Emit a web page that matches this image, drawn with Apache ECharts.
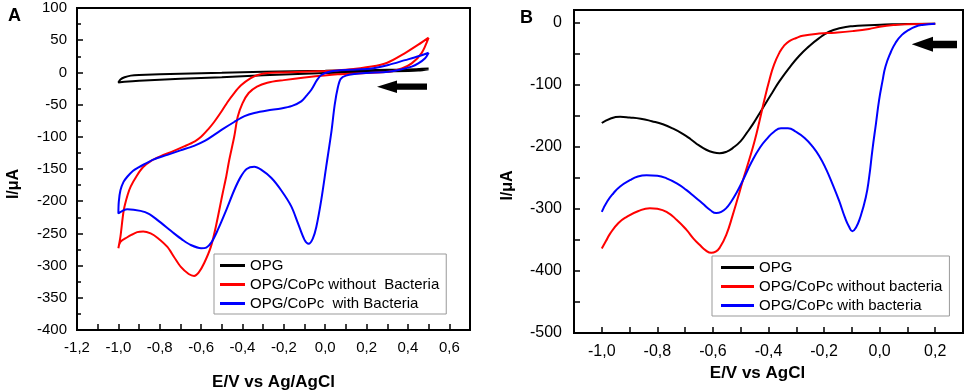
<!DOCTYPE html>
<html>
<head>
<meta charset="utf-8">
<script src="https://cdn.jsdelivr.net/npm/echarts@6/dist/echarts.min.js"></script>
<style>
  html, body { margin: 0; padding: 0; background: #fff; }
  #main { width: 969px; height: 392px; }
</style>
</head>
<body>
<div id="main"></div>
<script>
var myChart = echarts.init(document.getElementById('main'));

// A: cyclic voltammograms [E (V), I (uA)], scan starts at +0.5 V going negative
var cvOpg = [[0.5,5],[0.45,3],[0.3,1.5],[0.1,0],[-0.1,-2],[-0.3,-4.5],[-0.5,-7.5],[-0.7,-10],[-0.9,-13],[-0.97,-14.5],[-1.0,-15.5],
    [-0.99,-11],[-0.97,-7.5],[-0.94,-5],[-0.9,-4],[-0.7,-2],[-0.5,-0.5],[-0.3,1],[0,2.5],[0.2,3.5],[0.4,4.5],[0.5,6]];
var cvNoBact = [[0.5,54],[0.466,30],[0.418,14],[0.37,6],[0.305,1],[0.2,-1],[0.06,-3],[-0.1,-8],[-0.2,-12],[-0.28,-16],[-0.33,-22],
    [-0.37,-32],[-0.4,-48],[-0.423,-69],[-0.44,-100],[-0.464,-136],[-0.48,-164],[-0.496,-188],[-0.529,-240],[-0.553,-271],
    [-0.585,-296],[-0.612,-311],[-0.634,-316],[-0.66,-313],[-0.698,-302],[-0.73,-287],[-0.763,-271],[-0.81,-257],[-0.844,-250],
    [-0.88,-247],[-0.909,-248],[-0.935,-252],[-0.957,-256],[-0.99,-263],[-1.0,-273],
    [-0.99,-255],[-0.974,-214],[-0.955,-190],[-0.94,-177],[-0.91,-160],[-0.88,-147],[-0.84,-137],[-0.795,-130],[-0.74,-123],
    [-0.682,-115],[-0.63,-107],[-0.6,-100],[-0.565,-88],[-0.537,-77],[-0.5,-60],[-0.472,-46],[-0.44,-32],[-0.407,-20],
    [-0.36,-9],[-0.326,-4],[-0.28,-1],[-0.2,0],[0,2],[0.1,4],[0.224,9],[0.3,15],[0.386,30],[0.45,43],[0.5,54]];
var cvBact = [[0.5,30.6],[0.483,22],[0.45,14],[0.418,9],[0.36,4],[0.305,1],[0.2,-1],[0.143,-2.5],[0.1,-5],[0.075,-10],[0.062,-22],
    [0.046,-50],[0.03,-92],[0.005,-146],[-0.019,-198],[-0.043,-240],[-0.06,-258],[-0.08,-266],[-0.1,-260],[-0.132,-234],
    [-0.164,-208],[-0.213,-183],[-0.26,-164],[-0.31,-151],[-0.343,-146.5],[-0.38,-150],[-0.41,-163],[-0.44,-183],[-0.48,-215],
    [-0.52,-245],[-0.55,-264],[-0.575,-272],[-0.6,-273],[-0.65,-268],[-0.69,-260],[-0.731,-250],[-0.812,-229],[-0.85,-220],
    [-0.893,-215],[-0.957,-212.6],[-1.0,-219],
    [-0.998,-201],[-0.99,-183],[-0.975,-170],[-0.957,-162],[-0.93,-153],[-0.9,-147],[-0.877,-143],[-0.828,-135],[-0.763,-128],
    [-0.7,-121],[-0.634,-114],[-0.58,-106],[-0.537,-97],[-0.49,-87],[-0.44,-77],[-0.39,-68],[-0.343,-63],[-0.28,-59],
    [-0.213,-56],[-0.16,-52],[-0.116,-45],[-0.09,-36],[-0.067,-27],[-0.04,-12],[-0.019,-4],[0.02,1],[0.062,3],[0.15,4.5],
    [0.224,6],[0.305,11.5],[0.386,19],[0.45,25],[0.5,30.6]];

// B: linear sweeps [E (V), I (uA)]
var lsvOpg = [[-1.0,-162],[-0.97,-155],[-0.934,-152],[-0.9,-153],[-0.86,-155],[-0.82,-159],[-0.78,-164],[-0.743,-171],[-0.71,-179],
    [-0.68,-188],[-0.65,-198],[-0.624,-205],[-0.6,-209],[-0.576,-210.6],[-0.55,-208],[-0.528,-202],[-0.5,-191],[-0.48,-179],
    [-0.455,-163],[-0.433,-147],[-0.41,-130],[-0.385,-112],[-0.361,-95],[-0.325,-73],[-0.29,-54],[-0.253,-38],[-0.22,-26],
    [-0.182,-15],[-0.14,-9],[-0.098,-6],[-0.04,-4.5],[0.02,-3.5],[0.1,-2.5],[0.2,-2]];
var lsvNoBact = [[-1.0,-364],[-0.985,-352],[-0.97,-340],[-0.94,-323],[-0.91,-313],[-0.87,-304],[-0.827,-299],[-0.8,-300],
    [-0.767,-305],[-0.73,-318],[-0.695,-334],[-0.67,-348],[-0.648,-358],[-0.626,-367],[-0.606,-371],[-0.59,-369],[-0.576,-363],
    [-0.552,-342],[-0.528,-309],[-0.51,-282],[-0.492,-254],[-0.47,-222],[-0.45,-191],[-0.433,-160],[-0.415,-125],[-0.397,-93],
    [-0.38,-68],[-0.361,-49],[-0.345,-38],[-0.325,-30],[-0.3,-25],[-0.277,-21.5],[-0.218,-18],[-0.16,-16.5],[-0.098,-14],
    [-0.038,-10.5],[0.0,-7],[0.057,-4],[0.1,-3],[0.2,-2]];
var lsvBact = [[-1.0,-305],[-0.98,-288],[-0.958,-275],[-0.934,-264],[-0.899,-254],[-0.87,-248],[-0.839,-246],[-0.8,-247],
    [-0.767,-251],[-0.73,-259],[-0.695,-270],[-0.665,-281],[-0.636,-292],[-0.61,-302],[-0.588,-307],[-0.57,-305],[-0.552,-299],
    [-0.535,-289],[-0.516,-275],[-0.492,-254],[-0.46,-224],[-0.43,-201],[-0.405,-187],[-0.38,-176],[-0.355,-170.5],[-0.33,-170.5],
    [-0.301,-176],[-0.27,-186],[-0.241,-200],[-0.215,-217],[-0.194,-235],[-0.17,-260],[-0.146,-287],[-0.125,-314],
    [-0.11,-329],[-0.098,-336],[-0.085,-330],[-0.07,-314],[-0.05,-282],[-0.038,-250],[-0.026,-205],[-0.013,-162],[-0.002,-125],
    [0.01,-95],[0.021,-71],[0.04,-48],[0.057,-33],[0.08,-20],[0.105,-12],[0.13,-6.5],[0.153,-4],[0.2,-2]];

var namesA = ['OPG', 'OPG/CoPc without  Bacteria', 'OPG/CoPc  with Bacteria'];
var namesB = ['OPG', 'OPG/CoPc without bacteria', 'OPG/CoPc with bacteria'];
var colors = ['#000000', '#ff0000', '#0000ff'];

var FONT = '"Liberation Sans", Arial, sans-serif';

// x tick labels with comma decimal, only every 0.2
function xLabel(v) {
    var t = Math.round(v * 10);
    if (t % 2 !== 0) return '';
    return (t / 10).toFixed(1).replace('.', ',');
}

function xAxisOpt(gridIndex, min, max, name) {
    return {
        type: 'value',
        gridIndex: gridIndex,
        min: min,
        max: max,
        interval: 0.1,
        name: name,
        nameLocation: 'middle',
        nameGap: 44,
        nameTextStyle: {color: '#000', fontSize: 17, fontWeight: 'bold', fontFamily: FONT},
        axisLine: {onZero: false, lineStyle: {color: '#000', width: 2}},
        axisTick: {inside: true, length: 6, lineStyle: {color: '#000', width: 1.5}},
        axisLabel: {color: '#000', fontSize: 15, margin: 10, formatter: xLabel, showMaxLabel: true, showMinLabel: true},
        splitLine: {show: false}
    };
}

function makeSeries(name, data, idx, color, smooth) {
    return {
        name: name,
        type: 'line',
        xAxisIndex: idx,
        yAxisIndex: idx,
        data: data,
        smooth: smooth,
        symbol: 'none',
        showSymbol: false,
        lineStyle: {color: color, width: 2},
        itemStyle: {color: color},
        animation: false
    };
}

var legendBase = {
    orient: 'vertical',
    icon: 'rect',
    itemHeight: 3,
    backgroundColor: '#fff',
    borderColor: '#999',
    borderWidth: 1,
    borderRadius: 0,
    selectedMode: false,
    textStyle: {color: '#000', fontSize: 15, fontFamily: FONT}
};

option = {
    backgroundColor: '#fff',
    animation: false,
    textStyle: {fontFamily: FONT},
    grid: [
        {left: 77, top: 8, width: 393, height: 322, show: true, borderColor: '#000', borderWidth: 2, outerBoundsMode: 'none'},
        {left: 574, top: 10, width: 389, height: 323, show: true, borderColor: '#000', borderWidth: 2, outerBoundsMode: 'none'}
    ],
    legend: [
        Object.assign({}, legendBase, {
            data: namesA, left: 214, top: 254, itemWidth: 25, itemGap: 4, padding: [4, 7, 3, 6]
        }),
        Object.assign({}, legendBase, {
            data: namesB, left: 712, top: 256, itemWidth: 33, itemGap: 4, padding: [4, 7, 3, 9]
        })
    ],
    xAxis: [
        xAxisOpt(0, -1.2, 0.7, 'E/V vs Ag/AgCl'),
        (function () {
            var ax = xAxisOpt(1, -1.1, 0.3, 'E/V vs AgCl');
            ax.nameGap = 32;
            ax.nameTextStyle.padding = [0, 22, 0, 0];
            ax.axisLabel.fontSize = 16;
            ax.axisLabel.margin = 11;
            return ax;
        })()
    ],
    yAxis: [
        {
            type: 'value',
            gridIndex: 0,
            min: -400,
            max: 100,
            interval: 50,
            name: 'I/μA',
            nameLocation: 'middle',
            nameGap: 55,
            nameTextStyle: {color: '#000', fontSize: 16, fontWeight: 'bold', padding: [0, 30, 0, 0]},
            axisLine: {onZero: false, lineStyle: {color: '#000', width: 2}},
            axisTick: {inside: true, length: 6, lineStyle: {color: '#000', width: 1.5}},
            minorTick: {show: true, splitNumber: 2, length: 4, lineStyle: {color: '#000', width: 1.5}},
            axisLabel: {color: '#000', fontSize: 15, margin: 10},
            splitLine: {show: false}
        },
        {
            type: 'value',
            gridIndex: 1,
            min: -500,
            max: 20,
            interval: 50,
            name: 'I/μA',
            nameLocation: 'middle',
            nameGap: 58,
            nameTextStyle: {color: '#000', fontSize: 16, fontWeight: 'bold', padding: [0, 28, 0, 0]},
            axisLine: {onZero: false, lineStyle: {color: '#000', width: 2}},
            axisTick: {inside: true, length: 6, lineStyle: {color: '#000', width: 1.5}},
            axisLabel: {
                color: '#000', fontSize: 16, margin: 12,
                formatter: function (v) { return v % 100 === 0 ? String(v) : ''; }
            },
            splitLine: {show: false}
        }
    ],
    graphic: [
        {type: 'text', left: 8, top: 7, style: {text: 'A', fontSize: 18, fontWeight: 'bold', fill: '#000', fontFamily: FONT}},
        {type: 'text', left: 520, top: 9, style: {text: 'B', fontSize: 18, fontWeight: 'bold', fill: '#000', fontFamily: FONT}},
        // scan direction arrows
        {type: 'polygon', shape: {points: [[377, 86.7], [397, 80.5], [397, 83.5], [427, 83.5], [427, 89.8], [397, 89.8], [397, 93]]},
            style: {fill: '#000'}},
        {type: 'polygon', shape: {points: [[911.7, 44.3], [933, 36.7], [933, 40.7], [957, 40.7], [957, 48.3], [933, 48.3], [933, 51.7]]},
            style: {fill: '#000'}}
    ],
    series: [
        makeSeries(namesA[0], cvOpg, 0, colors[0], 0.3),
        makeSeries(namesA[1], cvNoBact, 0, colors[1], 0.3),
        makeSeries(namesA[2], cvBact, 0, colors[2], 0.3),
        makeSeries(namesB[0], lsvOpg, 1, colors[0], 0.5),
        makeSeries(namesB[1], lsvNoBact, 1, colors[1], 0.5),
        makeSeries(namesB[2], lsvBact, 1, colors[2], 0.5)
    ]
};
myChart.setOption(option);
</script>
</body>
</html>
